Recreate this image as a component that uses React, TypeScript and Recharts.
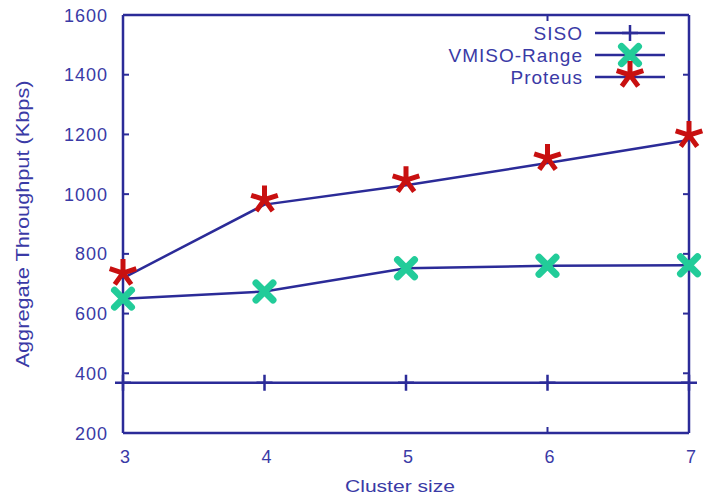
import React from 'react';
import { ComposedChart, Line, XAxis, YAxis } from 'recharts';

const clusterSizes = [3, 4, 5, 6, 7];
const sisoValues = [368, 368, 368, 368, 368];
const vmisoRangeValues = [650, 674, 752, 760, 762];
const proteusValues = [719, 965, 1030, 1104, 1181];
const yTicks = [200, 400, 600, 800, 1000, 1200, 1400, 1600];
const seriesNames = ['SISO', 'VMISO-Range', 'Proteus'];

const data = clusterSizes.map((size, i) => ({
  size,
  siso: sisoValues[i],
  vmiso: vmisoRangeValues[i],
  proteus: proteusValues[i],
}));

const NAVY = '#2b2b98';
const TEXT = '#3a3aa6';
const RED = '#c81010';
const GREEN = '#22cc99';
const FONT = '"Liberation Sans", Arial, sans-serif';

const PlusDot = (props: any) => {
  const { cx, cy } = props;
  if (cx == null || cy == null) return null;
  return <path d={`M${cx - 8},${cy}H${cx + 8}M${cx},${cy - 8}V${cy + 8}`} stroke={NAVY} strokeWidth={2.5} fill="none" />;
};

const CrossDot = (props: any) => {
  const { cx, cy } = props;
  if (cx == null || cy == null) return null;
  const r = 8.5;
  return (
    <path
      d={`M${cx - r},${cy - r}L${cx + r},${cy + r}M${cx - r},${cy + r}L${cx + r},${cy - r}`}
      stroke={GREEN}
      strokeWidth={7}
      strokeLinecap="round"
      fill="none"
    />
  );
};

// 5-armed asterisk, drawn a little above the point like the original
const StarDot = (props: any) => {
  const { cx, cy } = props;
  if (cx == null || cy == null) return null;
  const r = 14;
  const y0 = cy - 5;
  let d = '';
  for (let k = 0; k < 5; k++) {
    const a = ((-90 + k * 72) * Math.PI) / 180;
    d += `M${cx},${y0}L${cx + r * Math.cos(a)},${y0 + r * Math.sin(a)}`;
  }
  return <path d={d} stroke={RED} strokeWidth={5} strokeLinecap="butt" fill="none" />;
};

const NoLabel = () => <g />;

const YTick = (props: any) => {
  const { x, y, payload } = props;
  return (
    <text x={x} y={y} dy={6.5} textAnchor="end" fill={TEXT} fontSize={18} fontFamily={FONT} letterSpacing={1}>
      {payload.value}
    </text>
  );
};

const XTick = (props: any) => {
  const { x, y, payload } = props;
  return (
    <text x={x + 2} y={y} dy={22} textAnchor="middle" fill={TEXT} fontSize={18} fontFamily={FONT}>
      {payload.value}
    </text>
  );
};

const YTitle = (props: any) => {
  const vb = props.viewBox || { x: 0, y: 15, height: 418 };
  const cx = 29;
  const cy = vb.y + vb.height / 2;
  return (
    <text
      x={cx}
      y={cy}
      transform={`rotate(-90 ${cx} ${cy})`}
      textAnchor="middle"
      fill={TEXT}
      fontSize={18}
      fontFamily={FONT}
      textLength={287}
      lengthAdjust="spacingAndGlyphs"
    >
      Aggregate Throughput (Kbps)
    </text>
  );
};

const XTitle = (props: any) => {
  const vb = props.viewBox || { x: 123, width: 566 };
  const cx = vb.x + vb.width / 2 - 6;
  return (
    <text
      x={cx}
      y={492}
      textAnchor="middle"
      fill={TEXT}
      fontSize={17}
      fontFamily={FONT}
      textLength={110}
      lengthAdjust="spacingAndGlyphs"
    >
      Cluster size
    </text>
  );
};

const legendMarkers = [PlusDot, CrossDot, StarDot];

const LegendOverlay = () => (
  <svg width={704} height={497} style={{ position: 'absolute', left: 0, top: 0, pointerEvents: 'none' }}>
    {seriesNames.map((name, i) => {
      const y = 33 + i * 22;
      const Marker = legendMarkers[i];
      return (
        <g key={name}>
          <text x={583} y={y + 6.5} textAnchor="end" fill={TEXT} fontSize={19} fontFamily={FONT} letterSpacing={1}>
            {name}
          </text>
          <line x1={595} x2={665} y1={y} y2={y} stroke={NAVY} strokeWidth={2.5} />
          <Marker cx={630} cy={i === 2 ? y + 3 : y} />
        </g>
      );
    })}
  </svg>
);

export default function App() {
  return (
    <div style={{ position: 'absolute', left: 0, top: 0, width: 704, height: 497, background: '#fff' }}>
      <ComposedChart width={704} height={497} data={data} margin={{ top: 15, right: 15, bottom: 0, left: 0 }}>
        <XAxis
          dataKey="size"
          type="number"
          domain={[3, 7]}
          ticks={clusterSizes}
          height={64}
          axisLine={{ stroke: NAVY, strokeWidth: 2.5 }}
          tickLine={false}
          tickSize={0}
          tickMargin={8}
          tick={<XTick />}
          label={<XTitle />}
        />
        <XAxis
          xAxisId="bt"
          type="number"
          domain={[3, 7]}
          allowDataOverflow
          ticks={clusterSizes}
          orientation="bottom"
          mirror
          height={10}
          axisLine={false}
          tickLine={{ stroke: NAVY, strokeWidth: 2 }}
          tickSize={6}
          tick={<NoLabel />}
        />
        <XAxis
          xAxisId="top"
          type="number"
          domain={[3, 7]}
          allowDataOverflow
          ticks={clusterSizes}
          orientation="top"
          mirror
          height={10}
          axisLine={{ stroke: NAVY, strokeWidth: 2.5 }}
          tickLine={{ stroke: NAVY, strokeWidth: 2 }}
          tickSize={6}
          tick={<NoLabel />}
        />
        <YAxis
          type="number"
          domain={[200, 1600]}
          ticks={yTicks}
          width={123}
          axisLine={{ stroke: NAVY, strokeWidth: 2.5 }}
          tickLine={false}
          tickSize={0}
          tickMargin={15}
          tick={<YTick />}
          label={<YTitle />}
        />
        <YAxis
          yAxisId="lt"
          type="number"
          domain={[200, 1600]}
          allowDataOverflow
          ticks={yTicks}
          orientation="left"
          mirror
          width={10}
          axisLine={false}
          tickLine={{ stroke: NAVY, strokeWidth: 2 }}
          tickSize={6}
          tick={<NoLabel />}
        />
        <YAxis
          yAxisId="right"
          type="number"
          domain={[200, 1600]}
          allowDataOverflow
          ticks={yTicks}
          orientation="right"
          mirror
          width={10}
          axisLine={{ stroke: NAVY, strokeWidth: 2.5 }}
          tickLine={{ stroke: NAVY, strokeWidth: 2 }}
          tickSize={6}
          tick={<NoLabel />}
        />
        <Line
          dataKey="siso"
          name={seriesNames[0]}
          stroke={NAVY}
          strokeWidth={2.5}
          dot={<PlusDot />}
          activeDot={false}
          isAnimationActive={false}
        />
        <Line
          dataKey="vmiso"
          name={seriesNames[1]}
          stroke={NAVY}
          strokeWidth={2.5}
          dot={<CrossDot />}
          activeDot={false}
          isAnimationActive={false}
        />
        <Line
          dataKey="proteus"
          name={seriesNames[2]}
          stroke={NAVY}
          strokeWidth={2.5}
          dot={<StarDot />}
          activeDot={false}
          isAnimationActive={false}
        />
      </ComposedChart>
      <LegendOverlay />
    </div>
  );
}
